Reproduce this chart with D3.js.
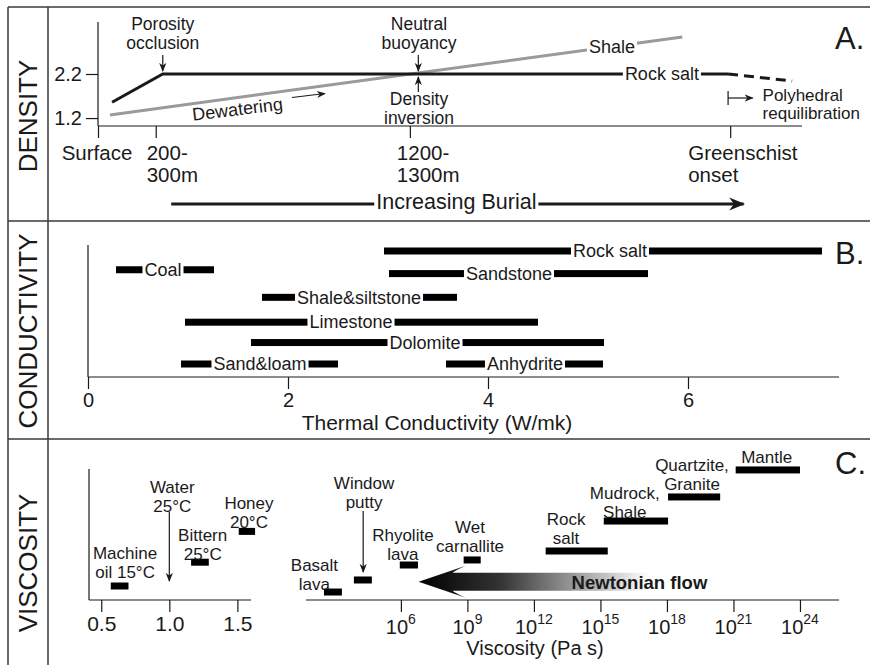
<!DOCTYPE html>
<html>
<head>
<meta charset="utf-8">
<script src="https://cdn.jsdelivr.net/npm/d3@7"></script>
<style>
  body { margin: 0; background: #fff; }
  svg { display: block; font-family: "Liberation Sans", Arial, Helvetica, sans-serif; }
  text { fill: #1a1a1a; }
</style>
</head>
<body>
<div id="chart"></div>
<script>
// ---- Panel A: density vs burial (relative burial 0-100) ----
const burialTicks = [0, 8.2, 44.3, 89.8];
const burialLabels = [['Surface'], ['200-', '300m'], ['1200-', '1300m'], ['Greenschist', 'onset']];
const densityTicks = [1.2, 2.2];
const rockSaltDensity = [[2.0, 1.56], [9.2, 2.2], [89.5, 2.2]];
const rockSaltDensityDeep = [[89.5, 2.2], [98.6, 2.04]];
const shaleDensity = [[1.7, 1.27], [83.0, 3.04]];

// ---- Panel B: thermal conductivity ranges (W/mK) ----
const condNames = ['Rock salt', 'Coal', 'Sandstone', 'Shale&siltstone', 'Limestone', 'Dolomite', 'Sand&loam', 'Anhydrite'];
const condMin = [2.96, 0.28, 3.01, 1.74, 0.97, 1.63, 0.93, 3.58];
const condMax = [7.34, 1.26, 5.60, 3.69, 4.50, 5.16, 2.50, 5.15];
const condRow = [0, 0.83, 1, 2.05, 3.15, 4.05, 5, 5];
const condLabelAt = [5.22, 0.75, 4.21, 2.71, 2.63, 3.37, 1.72, 4.37];
const condTicks = [0, 2, 4, 6];

// ---- Panel C: viscosity ----
// left inset, linear scale (mPa s)
const fluidNames = [['Machine', 'oil 15°C'], ['Bittern', '25°C'], ['Honey', '20°C']];
const fluidMin = [0.57, 1.16, 1.51];
const fluidMax = [0.70, 1.29, 1.63];
const fluidLevel = [1.0, 2.7, 4.9];
const fluidLabelX = [0.675, 1.245, 1.585];
const fluidLabelLevel = [3.36, 4.64, 6.93];
const waterViscosity = 1.0;
const fluidTicks = [0.5, 1.0, 1.5];

// right, log10 (Pa s)
const solidNames = [['Basalt', 'lava'], ['Window', 'putty'], ['Rhyolite', 'lava'], ['Wet', 'carnallite'],
  ['Rock', 'salt'], ['Mudrock,', 'Shale'], ['Quartzite,', 'Granite'], ['Mantle']];
const solidMinLog = [2.53, 3.88, 5.95, 8.83, 12.53, 15.15, 18.05, 21.1];
const solidMaxLog = [3.34, 4.69, 6.77, 9.60, 15.33, 18.05, 20.40, 24.0];
const solidLevel = [0.57, 1.43, 2.5, 2.86, 3.5, 5.64, 7.36, 9.29];
const solidLabelLog = [2.1, 4.34, 6.09, 9.12, 13.45, 16.1, 19.13, 22.5];
const solidLabelLevel = [2.5, 8.36, 4.64, 5.2, 5.79, 7.64, 9.64, 10.21];
const viscTicksLog = [6, 9, 12, 15, 18, 21, 24];
const newtonianFlowLog = [17.3, 6.8];

const W = 870, H = 665;
const svg = d3.select('#chart').append('svg').attr('width', W).attr('height', H);
const defs = svg.append('defs');

const ink = '#1a1a1a';
const FS = 18;      // labels on marks
const FS_AX = 21;   // axis ticks and titles
const FS_NOTE = 17; // stacked annotations

function arrowMarker(id, size) {
  defs.append('marker')
    .attr('id', id)
    .attr('viewBox', '0 0 10 10')
    .attr('refX', 9).attr('refY', 5)
    .attr('markerWidth', size).attr('markerHeight', size)
    .attr('markerUnits', 'userSpaceOnUse')
    .attr('orient', 'auto')
    .append('path')
    .attr('d', 'M0,1 L10,5 L0,9 L3,5 Z')
    .attr('fill', ink);
}
arrowMarker('arr', 9);
arrowMarker('arrBig', 16);

function styleAxis(g, fs) {
  g.selectAll('path.domain').remove();
  g.selectAll('line').attr('stroke', ink).attr('stroke-width', 1.2);
  g.selectAll('text').attr('font-size', fs || FS_AX).attr('fill', ink).attr('font-family', null);
}

function multiline(sel, lines, x, y, lh, anchor, fs) {
  const t = sel.append('text')
    .attr('text-anchor', anchor || 'middle')
    .attr('font-size', fs || FS_NOTE);
  lines.forEach((l, i) => {
    t.append('tspan').attr('x', x).attr('y', y + i * lh).attr('dy', '0.35em').text(l);
  });
  return t;
}

// ---- frame ----
const frame = svg.append('g').attr('stroke', '#3a3a3a').attr('stroke-width', 1.5).attr('fill', 'none');
frame.append('line').attr('x1', 8).attr('x2', W).attr('y1', 7).attr('y2', 7);
frame.append('line').attr('x1', 8).attr('x2', W).attr('y1', 221).attr('y2', 221);
frame.append('line').attr('x1', 8).attr('x2', W).attr('y1', 439).attr('y2', 439);
frame.append('line').attr('x1', 8).attr('x2', 8).attr('y1', 7).attr('y2', H);
frame.append('line').attr('x1', 48).attr('x2', 48).attr('y1', 7).attr('y2', H);

[['DENSITY', 116], ['CONDUCTIVITY', 331], ['VISCOSITY', 563]].forEach(([t, y]) => {
  svg.append('text')
    .attr('transform', `translate(28,${y}) rotate(-90)`)
    .attr('text-anchor', 'middle').attr('dy', '0.35em')
    .attr('font-size', 26).text(t);
});
[['A.', 38], ['B.', 253], ['C.', 463]].forEach(([t, y]) => {
  svg.append('text').attr('x', 835).attr('y', y).attr('dy', '0.35em')
    .attr('font-size', 31).text(t);
});

// ================= Panel A =================
const xA = d3.scaleLinear().domain([0, 100]).range([98, 802]);
const yA = d3.scaleLinear().domain([1.02, 3.38]).range([126, 22]);
const gA = svg.append('g');

gA.append('line').attr('x1', xA(0)).attr('x2', xA(0)).attr('y1', yA(3.38)).attr('y2', yA(1.02))
  .attr('stroke', ink).attr('stroke-width', 1.2);
gA.append('line').attr('x1', xA(0)).attr('x2', xA(100)).attr('y1', yA(1.02)).attr('y2', yA(1.02))
  .attr('stroke', ink).attr('stroke-width', 1.2);

const yAxisA = gA.append('g').attr('transform', `translate(${xA(0)},0)`)
  .call(d3.axisLeft(yA).tickValues(densityTicks).tickSize(12).tickPadding(4).tickFormat(d3.format('.1f')));
styleAxis(yAxisA, 20);

const xAxisA = gA.append('g').attr('transform', `translate(0,${yA(1.02)})`)
  .call(d3.axisBottom(xA).tickValues(burialTicks).tickSize(12).tickFormat(''));
styleAxis(xAxisA);

const burialLabelDx = [-1, -9, -13, -42];
burialTicks.forEach((b, i) => {
  multiline(gA, burialLabels[i], xA(b) + burialLabelDx[i], 153, 22, i === 0 ? 'middle' : 'start', 20.5);
});

const lineA = d3.line().x(d => xA(d[0])).y(d => yA(d[1]));
gA.append('path').datum(shaleDensity).attr('d', lineA)
  .attr('fill', 'none').attr('stroke', '#9a9a9a').attr('stroke-width', 3);
gA.append('path').datum(rockSaltDensity).attr('d', lineA)
  .attr('fill', 'none').attr('stroke', ink).attr('stroke-width', 3);
gA.append('path').datum(rockSaltDensityDeep).attr('d', lineA)
  .attr('fill', 'none').attr('stroke', ink).attr('stroke-width', 3).attr('stroke-dasharray', '10,6');

function labelOnLine(g, text, x, y, fs) {
  const t = g.append('text').attr('x', x).attr('y', y).attr('dy', '0.35em')
    .attr('text-anchor', 'middle').attr('font-size', fs || FS).text(text);
  const bb = t.node().getBBox();
  g.insert('rect', () => t.node())
    .attr('x', bb.x - 2).attr('y', bb.y + 3).attr('width', bb.width + 4).attr('height', bb.height - 6)
    .attr('fill', '#fff');
}
labelOnLine(gA, 'Rock salt', xA(80.1), yA(2.2));
labelOnLine(gA, 'Shale', xA(73.0), yA(2.82));

// annotations
multiline(gA, ['Porosity', 'occlusion'], xA(9.2), 24, 19, 'middle', 17.5);
gA.append('line').attr('x1', xA(9.2)).attr('x2', xA(9.2)).attr('y1', 55).attr('y2', yA(2.2) - 3)
  .attr('stroke', ink).attr('stroke-width', 1.2).attr('marker-end', 'url(#arr)');
multiline(gA, ['Neutral', 'buoyancy'], xA(45.6), 24, 19, 'middle', 17.5);
gA.append('line').attr('x1', xA(45.5)).attr('x2', xA(45.5)).attr('y1', 55).attr('y2', yA(2.2) - 3)
  .attr('stroke', ink).attr('stroke-width', 1.2).attr('marker-end', 'url(#arr)');
multiline(gA, ['Density', 'inversion'], xA(45.6), 99, 19, 'middle', 17.5);
gA.append('line').attr('x1', xA(45.5)).attr('x2', xA(45.5)).attr('y1', 92).attr('y2', yA(2.2) + 3)
  .attr('stroke', ink).attr('stroke-width', 1.2).attr('marker-end', 'url(#arr)');

gA.append('text').attr('transform', `translate(${xA(19.8)},109) rotate(-7)`)
  .attr('text-anchor', 'middle').attr('dy', '0.35em').attr('font-size', FS).text('Dewatering');
gA.append('line').attr('x1', 292).attr('y1', 97.5).attr('x2', 325).attr('y2', 93.5)
  .attr('stroke', ink).attr('stroke-width', 1.2).attr('marker-end', 'url(#arr)');

gA.append('line').attr('x1', xA(89.5)).attr('x2', xA(89.5)).attr('y1', 91).attr('y2', 105)
  .attr('stroke', ink).attr('stroke-width', 1.2);
gA.append('line').attr('x1', xA(89.5)).attr('x2', xA(93)).attr('y1', 98).attr('y2', 98)
  .attr('stroke', ink).attr('stroke-width', 1.2).attr('marker-end', 'url(#arr)');
multiline(gA, ['Polyhedral', 'requilibration'], xA(94.4), 95, 18, 'start', 17);

// increasing burial arrow
gA.append('line').attr('x1', xA(10.4)).attr('x2', xA(91.7)).attr('y1', 204).attr('y2', 204)
  .attr('stroke', ink).attr('stroke-width', 3).attr('marker-end', 'url(#arrBig)');
labelOnLine(gA, 'Increasing Burial', xA(50.9), 201, 21.5);

// ================= Panel B =================
const xB = d3.scaleLinear().domain([0, 7.51]).range([88, 839]);
const yB = d3.scaleLinear().domain([0, 5]).range([251, 364]);
const gB = svg.append('g');

gB.append('line').attr('x1', xB(0)).attr('x2', xB(0)).attr('y1', 245).attr('y2', 377)
  .attr('stroke', ink).attr('stroke-width', 1.2);
gB.append('line').attr('x1', xB(0)).attr('x2', xB(7.51)).attr('y1', 377).attr('y2', 377)
  .attr('stroke', ink).attr('stroke-width', 1.2);
const xAxisB = gB.append('g').attr('transform', 'translate(0,377)')
  .call(d3.axisBottom(xB).tickValues(condTicks).tickSize(12).tickPadding(3.5).tickFormat(d3.format('d')));
styleAxis(xAxisB, 20);
gB.append('text').attr('x', xB(3.49)).attr('y', 423).attr('dy', '0.35em')
  .attr('text-anchor', 'middle').attr('font-size', FS_AX).text('Thermal Conductivity (W/mk)');

condNames.forEach((name, i) => {
  gB.append('rect')
    .attr('x', xB(condMin[i])).attr('width', xB(condMax[i]) - xB(condMin[i]))
    .attr('y', yB(condRow[i]) - 3.5).attr('height', 7)
    .attr('fill', '#000');
  labelOnLine(gB, name, xB(condLabelAt[i]), yB(condRow[i]));
});

// ================= Panel C =================
const yC = d3.scaleLinear().domain([0, 10]).range([600, 460]);
const gC = svg.append('g');

// left inset
const xCL = d3.scaleLinear().domain([0.41, 1.6]).range([89, 251]);
gC.append('line').attr('x1', xCL(0.41)).attr('x2', xCL(0.41)).attr('y1', 469).attr('y2', 600)
  .attr('stroke', ink).attr('stroke-width', 1.2);
gC.append('line').attr('x1', xCL(0.41)).attr('x2', xCL(1.6)).attr('y1', 600).attr('y2', 600)
  .attr('stroke', ink).attr('stroke-width', 1.2);
const xAxisCL = gC.append('g').attr('transform', 'translate(0,600)')
  .call(d3.axisBottom(xCL).tickValues(fluidTicks).tickSize(12).tickPadding(4).tickFormat(d3.format('.1f')));
styleAxis(xAxisCL);

fluidNames.forEach((lines, i) => {
  gC.append('rect')
    .attr('x', xCL(fluidMin[i])).attr('width', xCL(fluidMax[i]) - xCL(fluidMin[i]))
    .attr('y', yC(fluidLevel[i]) - 3.5).attr('height', 7).attr('fill', '#000');
  multiline(gC, lines, xCL(fluidLabelX[i]), yC(fluidLabelLevel[i]), 19);
});
multiline(gC, ['Water', '25°C'], xCL(waterViscosity) + 3, 487, 19);
gC.append('line').attr('x1', xCL(waterViscosity)).attr('x2', xCL(waterViscosity))
  .attr('y1', 512).attr('y2', 581)
  .attr('stroke', ink).attr('stroke-width', 1.2).attr('marker-end', 'url(#arr)');

// right log axis
const xCR = d3.scaleLog().domain([Math.pow(10, 1.72), Math.pow(10, 25.76)]).range([306, 839]);
const lx = v => xCR(Math.pow(10, v));
gC.append('line').attr('x1', 306).attr('x2', 839).attr('y1', 600).attr('y2', 600)
  .attr('stroke', ink).attr('stroke-width', 1.2);
const xAxisCR = gC.append('g').attr('transform', 'translate(0,600)')
  .call(d3.axisBottom(xCR).tickValues(viscTicksLog.map(v => Math.pow(10, v))).tickSize(12).tickFormat(''));
styleAxis(xAxisCR);
viscTicksLog.forEach(v => {
  const t = gC.append('text').attr('x', lx(v)).attr('y', 627).attr('dy', '0.35em')
    .attr('text-anchor', 'middle').attr('font-size', 20);
  t.append('tspan').text('10');
  t.append('tspan').attr('font-size', 14).attr('dy', '-0.7em').text(v);
});
gC.append('text').attr('x', lx(12.05)).attr('y', 648).attr('dy', '0.35em')
  .attr('text-anchor', 'middle').attr('font-size', 20).text('Viscosity (Pa s)');

// Newtonian flow arrow
const tipX = lx(newtonianFlowLog[1]), endX = lx(newtonianFlowLog[0]);
const grad = defs.append('linearGradient').attr('id', 'flowGrad')
  .attr('gradientUnits', 'userSpaceOnUse')
  .attr('x1', tipX).attr('x2', endX).attr('y1', 0).attr('y2', 0);
[[0, '#000'], [0.12, '#111'], [0.35, '#333'], [0.61, '#888'], [0.78, '#bbb'], [0.93, '#eee'], [1, '#fff']]
  .forEach(([o, c]) => grad.append('stop').attr('offset', o).attr('stop-color', c));
const midY = yC(1.3);
gC.append('path')
  .attr('d', `M${tipX},${midY} L${tipX + 47},${midY - 16} Q${tipX + 36},${midY - 11} ${tipX + 34},${midY - 9}
    L${endX},${midY - 9} L${endX},${midY + 9} L${tipX + 34},${midY + 9}
    Q${tipX + 36},${midY + 11} ${tipX + 47},${midY + 16} Z`)
  .attr('fill', 'url(#flowGrad)');
gC.append('text').attr('x', lx(13.7)).attr('y', midY + 1).attr('dy', '0.35em')
  .attr('font-size', 18.5).attr('font-weight', 'bold').attr('fill', '#2a2a2a').text('Newtonian flow');

solidNames.forEach((lines, i) => {
  gC.append('rect')
    .attr('x', lx(solidMinLog[i])).attr('width', lx(solidMaxLog[i]) - lx(solidMinLog[i]))
    .attr('y', yC(solidLevel[i]) - 3.5).attr('height', 7).attr('fill', '#000');
  multiline(gC, lines, lx(solidLabelLog[i]), yC(solidLabelLevel[i]), 19);
});
// window putty pointer
gC.append('line').attr('x1', lx(4.3)).attr('x2', lx(4.3)).attr('y1', 511).attr('y2', 572)
  .attr('stroke', ink).attr('stroke-width', 1.2).attr('marker-end', 'url(#arr)');
</script>
</body>
</html>
